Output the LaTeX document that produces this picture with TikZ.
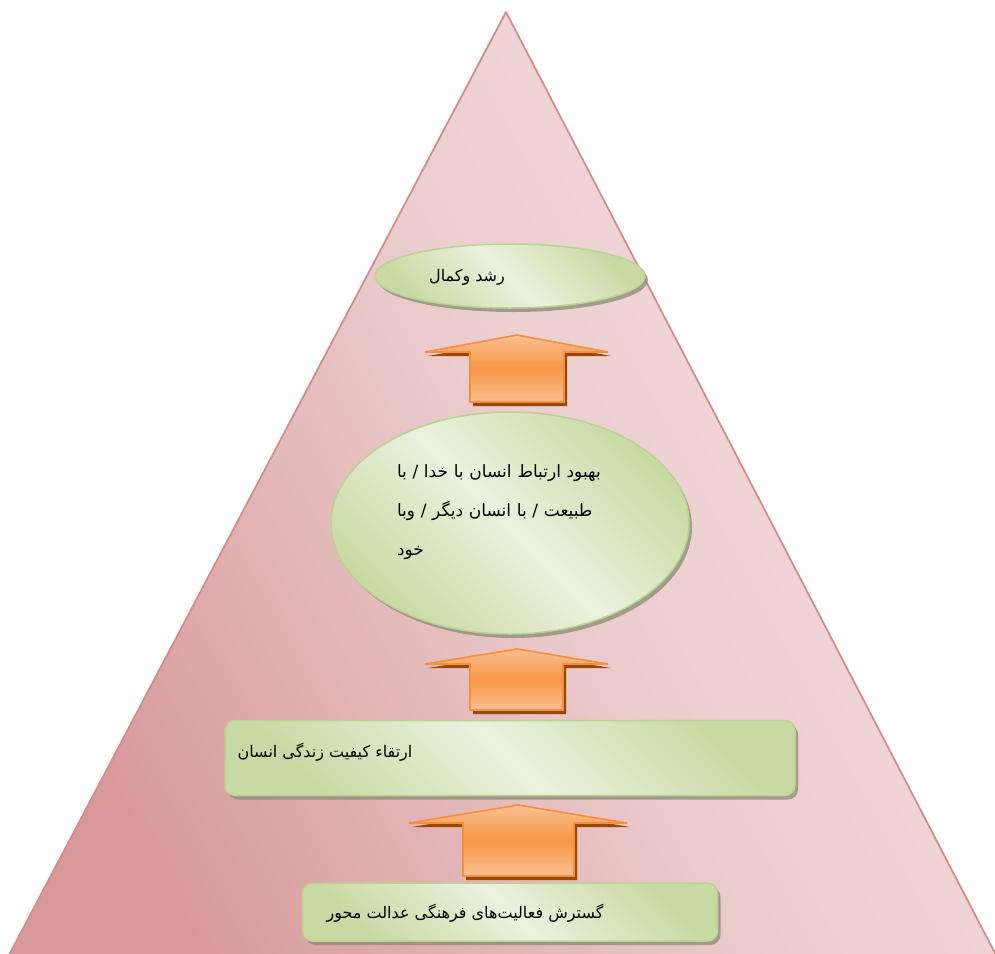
\documentclass[tikz,border=0pt]{standalone}
\usepackage{fontspec}
\newfontfamily\arabicfont[Script=Arabic]{DejaVu Sans}
\TeXXeTstate=1
\usetikzlibrary{shapes.geometric,shadows}
\definecolor{pinkdark}{HTML}{D8999B}
\definecolor{pinkmid}{HTML}{EACBCC}
\definecolor{pinklight}{HTML}{F3E0E0}
\definecolor{pinkborder}{HTML}{D68C8C}
\definecolor{greendark}{HTML}{C8DAA3}
\definecolor{greenlight}{HTML}{EBF1DE}
\definecolor{greenborder}{HTML}{BCD292}
\definecolor{greenshadow}{HTML}{8F8F7A}
\definecolor{orangemid}{HTML}{F79646}
\definecolor{orangelight}{HTML}{FAC090}
\definecolor{orangeborder}{HTML}{F68E3E}
\definecolor{orangeshadow}{HTML}{984807}
\tikzset{
  greenshape/.style={draw=greenborder, line width=1.5pt,
    top color=greendark, bottom color=greendark, middle color=greenlight, shading angle=-45,
    drop shadow={shadow xshift=3pt, shadow yshift=-4pt, fill=greenshadow, opacity=0.8}},
  blockarrow/.style={draw=orangeborder, line width=1.6pt, line join=miter,
    top color=orangelight, bottom color=orangelight, middle color=orangemid,
    drop shadow={shadow xshift=3pt, shadow yshift=-4pt, fill=orangeshadow, opacity=1}},
  fatext/.style={font=\arabicfont\fontsize{16}{39}\selectfont, text=black, inner sep=0pt}
}
\begin{document}
\begin{tikzpicture}[x=1pt,y=-1pt]
\useasboundingbox (0,0) rectangle (995,953);
\fill[white] (0,0) rectangle (995,953);
\begin{scope}
\clip (0,0) rectangle (995,953);
\shade[top color=pinklight, bottom color=pinkdark, middle color=pinkmid, shading angle=-62]
  (506,12) -- (997,957) -- (8,957) -- cycle;
\draw[pinkborder, line width=1.8pt, line join=round] (506,12) -- (997,957) -- (8,957) -- cycle;
\end{scope}

% level 1 ellipse
\node[ellipse, greenshape, minimum width=270pt, minimum height=64pt] (e1) at (510,276) {};
\node[fatext] (t1) at (467,277) {\beginR رشد وکمال\endR};

% arrow 1
\path[blockarrow] (470,402) -- (470,352) -- (425,352) -- (517,335) -- (608,352) -- (564,352) -- (564,402) -- cycle;

% level 2 ellipse
\node[ellipse, greenshape, minimum width=358pt, minimum height=222pt] (e2) at (510,523) {};
\node[fatext, font=\arabicfont\fontsize{17}{39}\selectfont, align=left, text width=206pt] (t2) at (500,512)
  {\beginR بهبود ارتباط انسان با خدا / با\endR\\
   \beginR طبیعت / با انسان دیگر / وبا\endR\\
   \beginR خود\endR};

% arrow 2
\path[blockarrow] (470,710) -- (470,664) -- (425,664) -- (517,649) -- (608,664) -- (563,664) -- (563,710) -- cycle;

% level 3 rectangle
\node[rectangle, rounded corners=10pt, greenshape, minimum width=570pt, minimum height=75pt] (r3) at (510,758) {};
\node[fatext] (t3) at (325,752) {\beginR ارتقاء کیفیت زندگی انسان\endR};

% arrow 3
\path[blockarrow] (463,876) -- (463,823) -- (409,823) -- (518,805) -- (627,823) -- (574,823) -- (574,876) -- cycle;

% level 4 rectangle
\node[rectangle, rounded corners=10pt, greenshape, minimum width=415pt, minimum height=58pt] (r4) at (510,912) {};
\node[fatext] (t4) at (465,913) {\beginR گسترش فعالیت‌های فرهنگی عدالت محور\endR};
\end{tikzpicture}
\end{document}
